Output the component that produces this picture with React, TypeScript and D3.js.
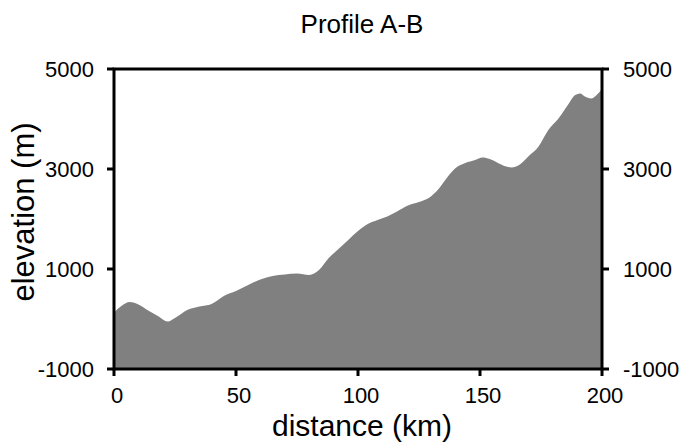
import React from "react";
import * as d3 from "d3";

const distanceKm = [0, 3, 6.5, 10, 14, 18, 22, 25, 30, 35, 40, 45, 50, 55, 60, 65, 70, 75, 80, 84, 88, 92, 96, 100, 104, 108, 112, 116, 120, 125, 129, 133, 137, 140, 144, 148, 151, 154, 157, 160, 163, 166, 170, 174, 178, 182, 186, 189, 191, 193, 195.5, 198, 200];
const elevationM = [130, 260, 340, 290, 170, 60, -50, 20, 180, 250, 300, 460, 560, 680, 790, 860, 890, 910, 880, 980, 1220, 1400, 1580, 1760, 1900, 1980, 2050, 2150, 2260, 2340, 2420, 2600, 2860, 3020, 3120, 3180, 3230, 3200, 3130, 3060, 3030, 3080, 3260, 3450, 3780, 4000, 4280, 4480, 4510, 4450, 4410, 4490, 4600];
const xTicks = [0, 50, 100, 150, 200];
const yTicks = [-1000, 1000, 3000, 5000];
const title = "Profile A-B";
const xLabel = "distance (km)";
const yLabel = "elevation (m)";

export default function App() {
  const W = 683, H = 442;
  const left = 114, right = 602, top = 69, bottom = 369;
  const x = d3.scaleLinear().domain([0, 200]).range([left, right]);
  const y = d3.scaleLinear().domain([-1000, 5000]).range([bottom, top]);
  const data = distanceKm.map((d, i) => [d, elevationM[i]] as [number, number]);
  const area = d3.area<[number, number]>()
    .x(d => x(d[0]))
    .y0(y(-1000))
    .y1(d => y(d[1]))
    .curve(d3.curveMonotoneX);
  const font = "'Liberation Sans', Arial, Helvetica, sans-serif";
  const tick = 7;
  return (
    <svg width={W} height={H} style={{ position: "absolute", left: 0, top: 0 }} fontFamily={font}>
      <rect width={W} height={H} fill="#fff" />
      <path d={area(data) || ""} fill="#808080" />
      <rect x={left} y={top} width={right - left} height={bottom - top} fill="none" stroke="#000" strokeWidth={3} />
      {yTicks.map(t => (
        <g key={"y" + t}>
          <line x1={left - tick} x2={left} y1={y(t)} y2={y(t)} stroke="#000" strokeWidth={3} />
          <line x1={right} x2={right + tick} y1={y(t)} y2={y(t)} stroke="#000" strokeWidth={3} />
          <text x={left - 20} y={y(t)} dy="0.36em" textAnchor="end" fontSize={22}>{t}</text>
          <text x={right + 21} y={y(t)} dy="0.36em" textAnchor="start" fontSize={22}>{t}</text>
        </g>
      ))}
      {xTicks.map(t => (
        <g key={"x" + t}>
          <line x1={x(t)} x2={x(t)} y1={bottom} y2={bottom + tick} stroke="#000" strokeWidth={3} />
          <text x={x(t) + 3} y={403} textAnchor="middle" fontSize={22}>{t}</text>
        </g>
      ))}
      <text x={362} y={33} textAnchor="middle" fontSize={26}>{title}</text>
      <text x={362} y={436} textAnchor="middle" fontSize={30}>{xLabel}</text>
      <text transform={`translate(34,${212}) rotate(-90)`} textAnchor="middle" fontSize={31}>{yLabel}</text>
    </svg>
  );
}
